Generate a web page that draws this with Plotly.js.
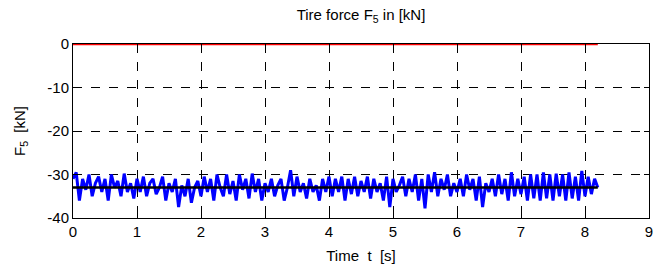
<!DOCTYPE html>
<html>
<head>
<meta charset="utf-8">
<script src="https://cdn.plot.ly/plotly-3.0.1.min.js"></script>
<style>html,body{margin:0;padding:0;background:#fff;}#chart{width:656px;height:267px;}</style>
</head>
<body>
<div id="chart"></div>
<script>
// sampling step of the recorded signal [s]
const dt = 0.05;
// measured tire force F5 [kN], sampled every dt from t = 0
const forceF5 = [
  -31, -29.5, -36, -31, -33.5, -30, -35, -32, -30.5, -34, -31, -36, -30, -33, -31.5, -35, -29.8, -34, -32, -35.5,
  -31, -34, -30.5, -35, -32, -31, -34.5, -33, -30.5, -36, -32, -34, -31, -37.5, -32.5, -35, -31, -36.5, -33, -31.5,
  -35, -30.5, -34, -31, -36, -30, -33, -35, -30, -34.5, -31.5, -36, -30, -33.5, -31, -35.5, -29.8, -34, -31, -36,
  -32, -34, -31, -35, -32.5, -31, -36, -33, -29, -35, -30.5, -34, -32, -35.5, -31, -34, -32.5, -36, -31, -34,
  -30.5, -35, -31, -34, -30.5, -36, -31, -34.5, -30.5, -35, -31.5, -34, -30.5, -35.5, -31, -34, -32, -36, -30.5, -37.5,
  -31, -34, -32.5, -30.5, -35, -31, -34, -30, -36, -31, -37.8, -30, -34, -29.5, -35, -31, -33.5, -30, -35, -32,
  -34, -31, -35, -30, -33.5, -31, -36, -30.5, -37.5, -32, -34, -31, -35, -30, -34.5, -31, -36, -29.5, -35, -31,
  -34.5, -30.5, -36, -30, -35.5, -30, -36, -29.5, -35.5, -30, -36, -29.8, -35, -30, -36, -29.5, -35.5, -30.5, -36, -29.2,
  -35, -30.5, -34.5, -31, -33
];
// mean (static) tire force [kN] and reference line [kN]
const meanForce = [-33, -33];
const zeroLine = [0, 0];
const lineTimes = [0, 8.2];
const xTicks = [0, 1, 2, 3, 4, 5, 6, 7, 8, 9];
const yTicks = [-40, -30, -20, -10, 0];

const tSignal = forceF5.map((_, i) => +(i * dt).toFixed(3));

const traces = [
  {x: lineTimes, y: zeroLine, mode: 'lines', line: {color: '#ff0000', width: 2.5}, hoverinfo: 'skip'},
  {x: tSignal, y: forceF5, mode: 'lines', line: {color: '#0000ff', width: 3}, hoverinfo: 'skip'},
  {x: lineTimes, y: meanForce, mode: 'lines', line: {color: '#000000', width: 2.5}, hoverinfo: 'skip'}
];

const FONT = 'Liberation Sans, Arial, sans-serif';
const axisCommon = {
  showline: true, linecolor: '#000', linewidth: 1, mirror: 'ticks',
  ticks: 'inside', ticklen: 5, tickcolor: '#000', tickwidth: 1,
  showgrid: true, gridcolor: '#000', gridwidth: 1, griddash: 'dash',
  zeroline: false,
  tickfont: {family: FONT, size: 15, color: '#000'}
};

const layout = {
  width: 656, height: 267,
  margin: {l: 73, r: 7, t: 44, b: 49},
  paper_bgcolor: '#fff', plot_bgcolor: '#fff',
  showlegend: false,
  title: {text: 'Tire force F<sub>5</sub> in [kN]', x: 0.5, xref: 'paper', y: 0.945, yanchor: 'middle',
          font: {family: FONT, size: 15, color: '#000'}},
  xaxis: Object.assign({}, axisCommon, {
    range: [0, 9], tickvals: xTicks, ticktext: xTicks.map(String),
    title: {text: 'Time  t  [s]', standoff: 11, font: {family: FONT, size: 15, color: '#000'}}
  }),
  yaxis: Object.assign({}, axisCommon, {
    range: [-40, 0], tickvals: yTicks, ticktext: yTicks.map(String),
    title: {text: 'F<sub>5</sub>  [kN]', standoff: 18, font: {family: FONT, size: 15, color: '#000'}}
  })
};

Plotly.newPlot('chart', traces, layout, {staticPlot: true, displayModeBar: false});
</script>
</body>
</html>
